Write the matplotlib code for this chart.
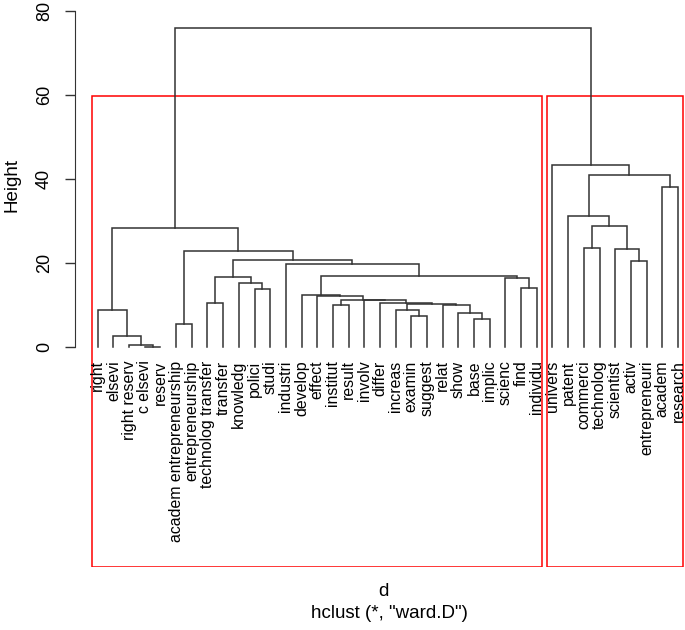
import numpy as np
import matplotlib.pyplot as plt
from matplotlib.patches import Rectangle

plt.rcParams['font.family'] = ['Liberation Sans', 'DejaVu Sans']

# leaf labels in dendrogram order
labels = ['right', 'elsevi', 'right reserv', 'c elsevi', 'reserv',
          'academ entrepreneurship', 'entrepreneurship', 'technolog transfer',
          'transfer', 'knowledg', 'polici', 'studi', 'industri', 'develop',
          'effect', 'institut', 'result', 'involv', 'differ', 'increas',
          'examin', 'suggest', 'relat', 'show', 'base', 'implic', 'scienc',
          'find', 'individu', 'univers', 'patent', 'commerci', 'technolog',
          'scientist', 'activ', 'entrepreneuri', 'academ', 'research']

# merge table like R's hclust: negative = leaf (1-based), positive = earlier merge step
merge_a = [-4, -3, -2, -6, -25, -21, -24, -20, -1, -16, -23, 8, -19, -18, 10,
           -15, -14, -8, -11, -10, 18, -28, -27, 17, -13, 21, 4, 9,
           -35, -32, -34, 30, -31, -37, 33, -30, 28]
merge_b = [-5, 1, 2, -7, -26, -22, 5, 6, 3, -17, 7, 11, 12, 13, 14,
           15, 16, -9, -12, 19, 20, -29, 22, 23, 24, 25, 26, 27,
           -36, -33, 29, 31, 32, -38, 34, 35, 36]
merge_h = [0.0, 0.3, 2.5, 5.3, 6.6, 7.3, 7.9, 8.7, 8.6, 9.9, 9.9, 10.2, 10.5,
           11.0, 11.1, 12.0, 12.3, 10.3, 13.7, 15.2, 16.6, 14.0, 16.4, 16.7,
           19.6, 20.6, 22.8, 28.3, 20.4, 23.5, 23.2, 28.7, 31.0, 37.9, 40.9,
           43.3, 75.9]

# clusters cut at k = 2: number of leaves in each box
cluster_sizes = [29, 9]

fig = plt.figure(figsize=(6.85, 6.3), dpi=100)
ax = fig.add_axes([74.5 / 685, 63 / 630, (685 - 74.5) / 685, (567 - 7.2) / 630])
ax.set_xlim(-0.48, 38.45)
ax.set_ylim(-52.5, 80.84)

line_col = '#333333'
node_x = {}
node_h = {}


def child_pos(c):
    if c < 0:
        return -c, 0.0
    return node_x[c], node_h[c]


for step, (a, b, h) in enumerate(zip(merge_a, merge_b, merge_h), start=1):
    xa, ha = child_pos(a)
    xb, hb = child_pos(b)
    ax.plot([xa, xa, xb, xb], [ha, h, h, hb], color=line_col, lw=1.1,
            solid_joinstyle='miter')
    node_x[step] = (xa + xb) / 2
    node_h[step] = h

for i, lab in enumerate(labels, start=1):
    ax.annotate(lab, (i, 0), xytext=(0, -10), textcoords='offset points',
                rotation=90, ha='center', va='top', fontsize=11.4)

# rect.hclust boxes
top = (merge_h[-1] + merge_h[-2]) / 2
start = 0
for n in cluster_sizes:
    x0 = start + 0.66
    x1 = start + n + 0.33
    ax.add_patch(Rectangle((x0, -52.5), x1 - x0, top + 52.5, fill=False,
                           edgecolor='red', lw=1.1))
    start += n

for s in ['top', 'right', 'bottom']:
    ax.spines[s].set_visible(False)
ax.spines['left'].set_bounds(0, 80)
ax.spines['left'].set_color(line_col)
ax.set_xticks([])
ax.set_yticks([0, 20, 40, 60, 80])
ax.tick_params(axis='y', length=7.5, width=1.0, color=line_col, pad=8,
               labelrotation=90, labelsize=13)
for t in ax.get_yticklabels():
    t.set_va('center')

fig.text(12 / 685, 1 - 185 / 630, 'Height', rotation=90, ha='center',
         va='center', fontsize=13.5)
fig.text(383 / 685, 1 - 591 / 630, 'd', ha='center', va='center', fontsize=13.5)
fig.text(389 / 685, 1 - 613 / 630, 'hclust (*, "ward.D")', ha='center',
         va='center', fontsize=13.5)

fig.savefig('out.png', dpi=100)
